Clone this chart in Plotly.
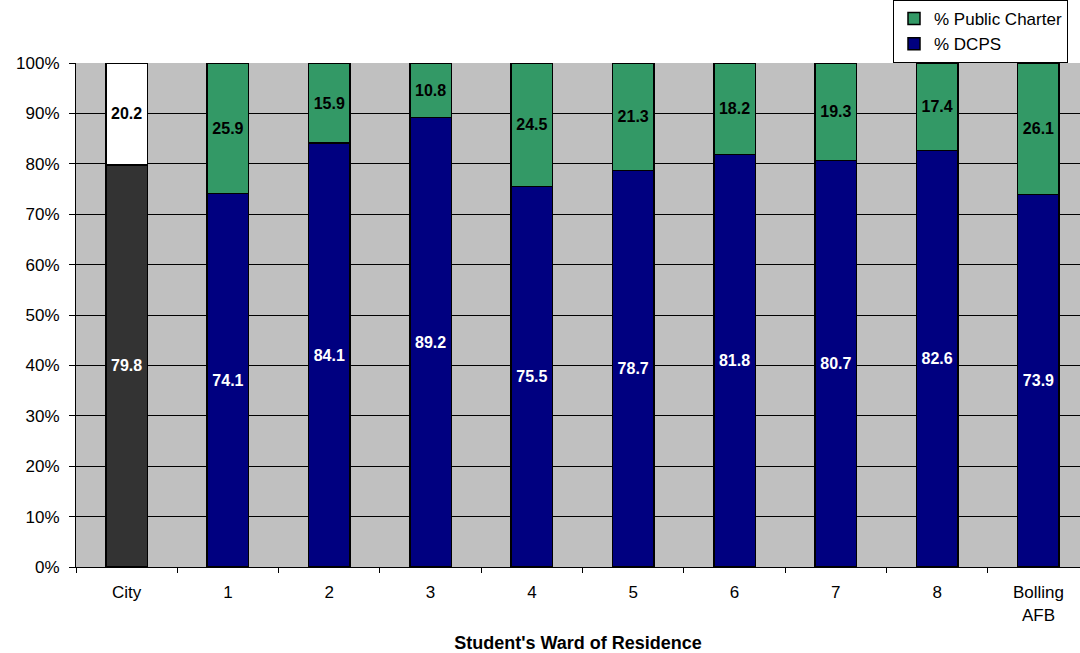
import plotly.graph_objects as go

categories = ["City", "1", "2", "3", "4", "5", "6", "7", "8", "Bolling<br>AFB"]
dcps = [79.8, 74.1, 84.1, 89.2, 75.5, 78.7, 81.8, 80.7, 82.6, 73.9]
charter = [20.2, 25.9, 15.9, 10.8, 24.5, 21.3, 18.2, 19.3, 17.4, 26.1]

FONT = "Liberation Sans, Arial, sans-serif"
fig = go.Figure()

bw = 0.41
line = dict(color="black", width=1.5)
TXT = 16

# City bars (special colors, no legend)
fig.add_trace(go.Bar(
    x=categories[:1], y=dcps[:1], width=bw, showlegend=False,
    marker=dict(color="#333333", line=line),
    texttemplate="%{y:.1f}", textposition="inside", insidetextanchor="middle",
    textangle=0, textfont=dict(color="white", size=TXT, family=FONT, weight="bold"),
    hoverinfo="skip"))
fig.add_trace(go.Bar(
    x=categories[:1], y=charter[:1], width=bw, showlegend=False,
    marker=dict(color="white", line=line),
    texttemplate="%{y:.1f}", textposition="inside", insidetextanchor="middle",
    textangle=0, textfont=dict(color="black", size=TXT, family=FONT, weight="bold"),
    hoverinfo="skip"))

# Wards
fig.add_trace(go.Bar(
    x=categories[1:], y=dcps[1:], width=bw, name="% DCPS", legendrank=2,
    marker=dict(color="#000080", line=line),
    texttemplate="%{y:.1f}", textposition="inside", insidetextanchor="middle",
    textangle=0, textfont=dict(color="white", size=TXT, family=FONT, weight="bold")))
fig.add_trace(go.Bar(
    x=categories[1:], y=charter[1:], width=bw, name="% Public Charter", legendrank=1,
    marker=dict(color="#339966", line=line),
    texttemplate="%{y:.1f}", textposition="inside", insidetextanchor="middle",
    textangle=0, textfont=dict(color="black", size=TXT, family=FONT, weight="bold")))

fig.update_layout(
    barmode="stack",
    width=1080, height=653,
    margin=dict(l=76, r=0, t=62, b=86),
    paper_bgcolor="white",
    plot_bgcolor="#C0C0C0",
    font=dict(family=FONT, size=16, color="black"),
    showlegend=True,
    legend=dict(
        x=(893 - 76) / 1004, y=1, xanchor="left", yanchor="bottom",
        bgcolor="white", bordercolor="black", borderwidth=1,
        font=dict(size=17, family=FONT), traceorder="normal",
        itemwidth=30,
    ),
    uniformtext=dict(minsize=TXT, mode="show"),
)
fig.update_xaxes(
    categoryorder="array", categoryarray=categories,
    range=[-0.5, 9.41],
    showline=True, linecolor="black", linewidth=1,
    ticks="outside", ticklen=5, tickcolor="black", tickson="boundaries",
    ticklabelstandoff=10,
    showgrid=False,
    tickfont=dict(size=17),
    title=dict(text="<b>Student's Ward of Residence</b>", font=dict(size=18), standoff=16),
)
fig.update_yaxes(
    range=[0, 100], dtick=10, ticksuffix="%",
    showline=True, linecolor="black", linewidth=1,
    ticks="outside", ticklen=6, tickcolor="black",
    ticklabelstandoff=6,
    showgrid=True, gridcolor="black", gridwidth=1,
    tickfont=dict(size=17), zeroline=False,
)

fig.write_html("out.html", config={"displayModeBar": False},
               post_script="document.body.style.margin='0';")
